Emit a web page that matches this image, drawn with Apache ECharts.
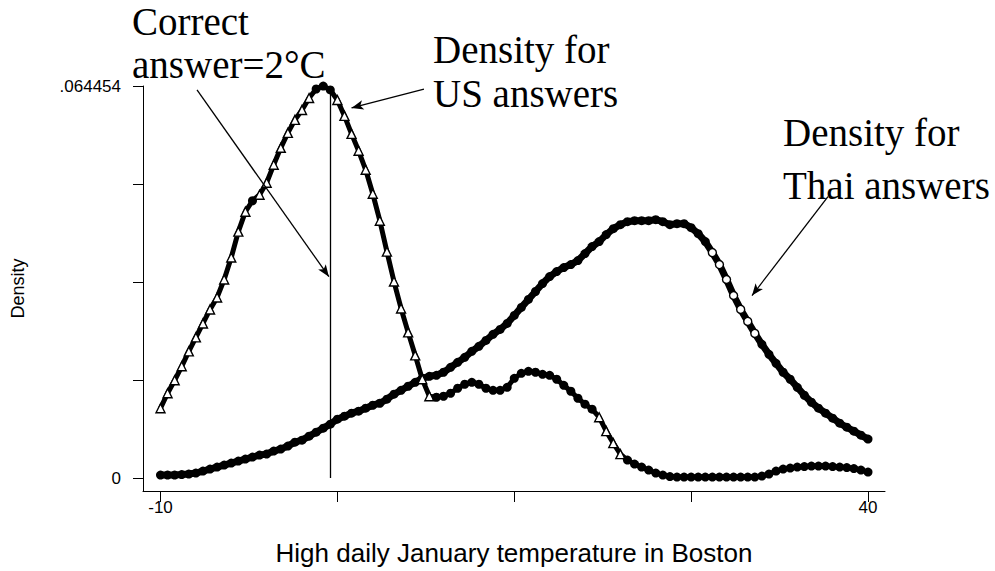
<!DOCTYPE html>
<html>
<head>
<meta charset="utf-8">
<script src="https://cdn.jsdelivr.net/npm/echarts@6/dist/echarts.min.js"></script>
<style>
html,body{margin:0;padding:0;background:#fff;}
#chart{width:995px;height:571px;}
</style>
</head>
<body>
<div id="chart"></div>
<script>
// Temperature grid (°C)
var temps = [-10,-9.5,-9,-8.5,-8,-7.5,-7,-6.5,-6,-5.5,-5,-4.5,-4,-3.5,-3,-2.5,-2,-1.5,-1,-0.5,
  0,0.5,1,1.5,2,2.5,3,3.5,4,4.5,5,5.5,6,6.5,7,7.5,8,8.5,9,9.5,
  10,10.5,11,11.5,12,12.5,13,13.5,14,14.5,15,15.5,16,16.5,17,17.5,18,18.5,19,19.5,
  20,20.5,21,21.5,22,22.5,23,23.5,24,24.5,25,25.5,26,26.5,27,27.5,28,28.5,29,29.5,
  30,30.5,31,31.5,32,32.5,33,33.5,34,34.5,35,35.5,36,36.5,37,37.5,38,38.5,39,39.5,40];

// Density for US answers (triangles)
var usDensity = [0.01148,0.01394,0.01607,0.01837,0.02083,0.02313,0.02542,0.02772,0.02969,0.03264,
  0.03625,0.04051,0.04379,0.04559,0.04658,0.04855,0.05150,0.05429,0.05675,0.05888,
  0.06052,0.06249,0.06396,0.06445,0.06380,0.06216,0.05954,0.05658,0.05380,0.05068,
  0.04674,0.04231,0.03723,0.03231,0.02788,0.02395,0.02017,0.01624,0.01345,0.01328,
  0.01345,0.01394,0.01476,0.01542,0.01574,0.01542,0.01476,0.01443,0.01443,0.01492,
  0.01640,0.01722,0.01755,0.01739,0.01706,0.01689,0.01624,0.01525,0.01427,0.01312,
  0.01214,0.01132,0.01000,0.00771,0.00574,0.00394,0.00295,0.00230,0.00180,0.00131,
  0.00082,0.00049,0.00025,0.00016,0.00016,0.00016,0.00016,0.00016,0.00016,0.00016,
  0.00016,0.00016,0.00016,0.00016,0.00016,0.00033,0.00066,0.00115,0.00148,0.00164,
  0.00180,0.00189,0.00197,0.00197,0.00197,0.00189,0.00180,0.00172,0.00156,0.00131,
  0.00098];

// Density for Thai answers (circles)
var thaiDensity = [0.00049,0.00049,0.00049,0.00057,0.00066,0.00082,0.00115,0.00148,0.00180,0.00213,
  0.00246,0.00279,0.00312,0.00344,0.00377,0.00394,0.00443,0.00476,0.00525,0.00590,
  0.00623,0.00689,0.00754,0.00820,0.00886,0.00968,0.01017,0.01066,0.01099,0.01148,
  0.01197,0.01230,0.01296,0.01378,0.01443,0.01509,0.01574,0.01640,0.01673,0.01689,
  0.01739,0.01821,0.01903,0.01985,0.02083,0.02165,0.02263,0.02362,0.02444,0.02542,
  0.02673,0.02805,0.02936,0.03067,0.03198,0.03313,0.03395,0.03461,0.03510,0.03575,
  0.03690,0.03805,0.03887,0.04002,0.04100,0.04166,0.04215,0.04231,0.04231,0.04231,
  0.04248,0.04215,0.04166,0.04182,0.04182,0.04117,0.04018,0.03887,0.03707,0.03510,
  0.03264,0.03001,0.02772,0.02575,0.02378,0.02198,0.02034,0.01886,0.01739,0.01624,
  0.01492,0.01361,0.01246,0.01148,0.01066,0.00984,0.00902,0.00836,0.00771,0.00705,
  0.00640];

var xTicks = [-10, 2.5, 15, 27.5, 40];
var xLabels = [-10, 40];
var yMaxLabel = 0.064454;
var yTicks = [0, 0.0161135, 0.032227, 0.0483405, 0.064454];
var yLabels = [0, 0.064454];
var correctAnswer = 2;

var serif = "'Liberation Serif','Times New Roman',serif";
var sans = "'Liberation Sans',Arial,sans-serif";

// Markers: where the curve is steep the original's markers separate (hollow),
// where it is flat they merge into a solid dark band.
function styledPoints(xs, ys, shape, steepFill, steepSize, flatSize, thr){
  return xs.map(function(x, i){
    var dPrev = i > 0 ? Math.abs(ys[i] - ys[i-1]) : 0;
    var dNext = i < ys.length - 1 ? Math.abs(ys[i+1] - ys[i]) : 0;
    var steep = Math.max(dPrev, dNext) > thr;
    return {
      value:[x, ys[i]],
      symbol: steep ? shape : 'circle',
      symbolSize: steep ? steepSize : flatSize,
      itemStyle: steep ? {color:steepFill, borderColor:'#000', borderWidth:1.4}
                       : {color:'#000', borderColor:'#000', borderWidth:0}
    };
  });
}

var chart = echarts.init(document.getElementById('chart'), null, {renderer:'svg'});

function txt(s, x, y){
  return {type:'text', left:x, top:y, style:{text:s, font:'39px ' + serif, fill:'#000'}};
}

var option = {
  animation:false,
  backgroundColor:'#fff',
  grid:{left:143, right:110, top:86, bottom:79, containLabel:false},
  xAxis:{
    type:'value', min:-11.237, max:41.2,
    name:'High daily January temperature in Boston', nameLocation:'middle', nameGap:49,
    nameTextStyle:{fontFamily:sans, fontSize:26, color:'#000'},
    axisLine:{show:true, onZero:false, lineStyle:{color:'#000', width:1}},
    axisTick:{show:true, customValues:xTicks, length:11, lineStyle:{color:'#000'}},
    axisLabel:{customValues:xLabels, fontFamily:sans, fontSize:17, color:'#000', margin:8},
    splitLine:{show:false}
  },
  yAxis:{
    type:'value', min:-0.00213, max:0.064454,
    name:'Density', nameLocation:'middle', nameGap:116, nameRotate:90,
    nameTextStyle:{fontFamily:sans, fontSize:18, color:'#000'},
    axisLine:{show:true, onZero:false, lineStyle:{color:'#000', width:1}},
    axisTick:{show:true, customValues:yTicks, length:10, lineStyle:{color:'#000'}},
    axisLabel:{customValues:yLabels, fontFamily:sans, fontSize:17, color:'#000', margin:22,
      formatter:function(v){ return v > 0.03 ? '.064454' : '0'; }},
    splitLine:{show:false}
  },
  series:[
    {
      name:'Thai answers', type:'line',
      data:styledPoints(temps, thaiDensity, 'circle', '#fff', 8, 9, 0.0019),
      showAllSymbol:true,
      lineStyle:{color:'#000', width:7},
      z:2
    },
    {
      name:'US answers', type:'line',
      data:styledPoints(temps, usDensity, 'triangle', '#fff', 9, 9, 0.0018),
      showAllSymbol:true,
      lineStyle:{color:'#000', width:5},
      z:3,
      markLine:{
        silent:true, animation:false, symbol:['none','none'],
        label:{show:false},
        lineStyle:{color:'#000', width:1.3, type:'solid'},
        data:[
          [{coord:[correctAnswer, 0]}, {coord:[correctAnswer, yMaxLabel]}],
          [{coord:[-7.42, 0.0638], symbol:'none'}, {coord:[1.9, 0.0331], symbol:'arrow', symbolSize:[7,12]}],
          [{coord:[8.62, 0.06396], symbol:'none'}, {coord:[3.5, 0.06085], symbol:'arrow', symbolSize:[7,12]}],
          [{coord:[37.17, 0.04625], symbol:'none'}, {coord:[31.8, 0.0300], symbol:'arrow', symbolSize:[7,12]}]
        ]
      }
    }
  ],
  graphic:[
    txt('Correct', 132, 2),
    txt('answer=2°C', 132, 45),
    txt('Density for', 433, 30),
    txt('US answers', 433, 74),
    txt('Density for', 783, 113),
    txt('Thai answers', 783, 166)
  ]
};
chart.setOption(option);
</script>
</body>
</html>
